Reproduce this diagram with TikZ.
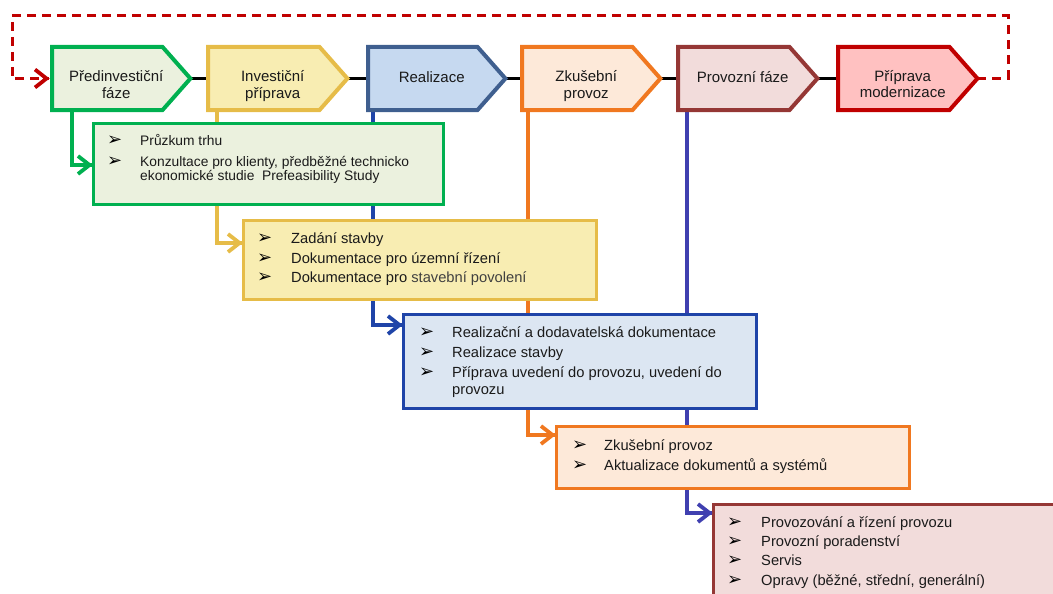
\documentclass[tikz,border=0pt]{standalone}
\usepackage{fontspec}
\setmainfont{Liberation Sans}
\newfontfamily\bulfont{DejaVu Sans}
\usetikzlibrary{calc}
\pgfdeclarelayer{bg}
\pgfsetlayers{bg,main}
\definecolor{txt}{HTML}{1A1A1A}
\definecolor{gB}{HTML}{00B050}\definecolor{gF}{HTML}{EBF1DE}
\definecolor{yB}{HTML}{E6BC48}\definecolor{yF}{HTML}{F8EDB2}
\definecolor{bB}{HTML}{3F5F8F}\definecolor{bF}{HTML}{C6D9F0}
\definecolor{dbB}{HTML}{1F44A8}\definecolor{dbF}{HTML}{DCE6F2}
\definecolor{oB}{HTML}{F07820}\definecolor{oF}{HTML}{FDE9D9}
\definecolor{rbB}{HTML}{953735}\definecolor{rbF}{HTML}{F2DCDB}
\definecolor{rB}{HTML}{C00000}\definecolor{rF}{HTML}{FFC1C1}
\definecolor{pu}{HTML}{4040B0}
\newcommand\phshape[3]{%
  \draw[line width=4pt, draw=#2, fill=#3, line join=miter]
    (#1.north west) -- ($(#1.north east)+(-28,0)$) -- (#1.east)
    -- ($(#1.south east)+(-28,0)$) -- (#1.south west) -- cycle;}
\newcommand\chevtip[2]{% coordinate name, colour
  \draw[line width=3.8pt, draw=#2, line join=miter, line cap=butt]
    ($(#1)+(-14,-9)$) -- ($(#1)+(-2.5,0)$) -- ($(#1)+(-14,9)$);}
\begin{document}
\begin{tikzpicture}[x=1pt,y=-1pt,
  phnode/.style={anchor=west, inner sep=0, minimum height=63pt},
  phtext/.style={anchor=base, inner sep=0, text=txt, font=\fontsize{15}{17}\selectfont},
  dbox/.style={anchor=north west, inner sep=0, line width=3pt},
  itm/.style={anchor=base west, inner sep=0, text=txt, font=\fontsize{14.7}{17}\selectfont},
  itmA/.style={anchor=base west, inner sep=0, text=txt, font=\fontsize{13.8}{15}\selectfont},
  bul/.style={anchor=base west, inner sep=0, text=black, font=\bulfont\fontsize{18}{18}\selectfont},
  link/.style={line width=3pt, black},
  conn/.style={line width=3.2pt},
  loopline/.style={line width=3pt, rB, dash pattern=on 9pt off 6pt}
]
\useasboundingbox (0,0) rectangle (1053,594);
\clip (0,0) rectangle (1053,594);

% phase nodes
\node[phnode, minimum width=138pt] (p1) at (52,78.5) {};
\node[phnode, minimum width=139pt] (p2) at (208,78.5) {};
\node[phnode, minimum width=137pt] (p3) at (368,78.5) {};
\node[phnode, minimum width=138pt] (p4) at (522,78.5) {};
\node[phnode, minimum width=139pt] (p5) at (678,78.5) {};
\node[phnode, minimum width=139pt] (p6) at (838,78.5) {};
\phshape{p1}{gB}{gF}
\phshape{p2}{yB}{yF}
\phshape{p3}{bB}{bF}
\phshape{p4}{oB}{oF}
\phshape{p5}{rbB}{rbF}
\phshape{p6}{rB}{rF}

\node[phtext] (p1a) at ($(p1.center)+(-5,3.2)$) {Předinvestiční};
\node[phtext] (p1b) at ($(p1.center)+(-5,20.2)$) {fáze};
\node[phtext] (p2a) at ($(p2.center)+(-5,3.2)$) {Investiční};
\node[phtext] (p2b) at ($(p2.center)+(-5,20)$) {příprava};
\node[phtext] (p3a) at ($(p3.center)+(-5,3.6)$) {Realizace};
\node[phtext] (p4a) at ($(p4.center)+(-5,2.8)$) {Zkušební};
\node[phtext] (p4b) at ($(p4.center)+(-5,19.8)$) {provoz};
\node[phtext] (p5a) at ($(p5.center)+(-5,3.5)$) {Provozní fáze};
\node[phtext] (p6a) at ($(p6.center)+(-5,2.6)$) {Příprava};
\node[phtext] (p6b) at ($(p6.center)+(-5,19.3)$) {modernizace};

% detail boxes
\node[dbox, draw=gB, fill=gF, minimum width=350pt, minimum height=81pt] (d1) at (92,122) {};
\node[dbox, draw=yB, fill=yF, minimum width=353pt, minimum height=79pt] (d2) at (242,219) {};
\node[dbox, draw=dbB, fill=dbF, minimum width=353pt, minimum height=94pt] (d3) at (402,313) {};
\node[dbox, draw=oB, fill=oF, minimum width=353pt, minimum height=62pt] (d4) at (555,425) {};
\node[dbox, draw=rbB, fill=rbF, minimum width=380pt, minimum height=110pt] (d5) at (712,503) {};

% box 1 items
\node[bul] (d1b1) at (107,146) {➢};
\node[itmA] (d1t1) at (140,146) {Průzkum trhu};
\node[bul] (d1b2) at (107,166.7) {➢};
\node[itmA] (d1t2) at (140,166.7) {Konzultace pro klienty, předběžné technicko};
\node[itmA] (d1t3) at (140,180) {ekonomické studie\ \ Prefeasibility Study};
% box 2 items
\node[bul] (d2b1) at (257,243.3) {➢};
\node[itm] (d2t1) at (291,243.3) {Zadání stavby};
\node[bul] (d2b2) at (257,263.3) {➢};
\node[itm] (d2t2) at (291,263.3) {Dokumentace pro územní řízení};
\node[bul] (d2b3) at (257,282.3) {➢};
\node[itm] (d2t3) at (291,282.3) {Dokumentace pro {\color{black!75}stavební povolení}};
% box 3 items
\node[bul] (d3b1) at (419,337.3) {➢};
\node[itm] (d3t1) at (452,337.3) {Realizační a dodavatelská dokumentace};
\node[bul] (d3b2) at (419,357.3) {➢};
\node[itm] (d3t2) at (452,357.3) {Realizace stavby};
\node[bul] (d3b3) at (419,377.7) {➢};
\node[itm] (d3t3) at (452,377.7) {Příprava uvedení do provozu, uvedení do};
\node[itm] (d3t4) at (452,394) {provozu};
% box 4 items
\node[bul] (d4b1) at (572,450.7) {➢};
\node[itm] (d4t1) at (604,450.7) {Zkušební provoz};
\node[bul] (d4b2) at (572,470) {➢};
\node[itm] (d4t2) at (604,470) {Aktualizace dokumentů a systémů};
% box 5 items
\node[bul] (d5b1) at (727,527.3) {➢};
\node[itm] (d5t1) at (761,527.3) {Provozování a řízení provozu};
\node[bul] (d5b2) at (727,546.7) {➢};
\node[itm] (d5t2) at (761,546.7) {Provozní poradenství};
\node[bul] (d5b3) at (727,565.7) {➢};
\node[itm] (d5t3) at (761,565.7) {Servis};
\node[bul] (d5b4) at (727,585) {➢};
\node[itm] (d5t4) at (761,585) {Opravy (běžné, střední, generální)};

\coordinate (lpR) at (1008,16);
\coordinate (lpL) at (12,16);
\coordinate (a0) at ($(p1.west)+(-3,0)$);
\coordinate (a1) at ($(d1.north west)+(0,43)$);
\coordinate (a2) at ($(d2.north west)+(0,24)$);
\coordinate (a3) at ($(d3.north west)+(0,12)$);
\coordinate (a4) at ($(d4.north west)+(0,10)$);
\coordinate (a5) at ($(d5.north west)+(0,10)$);

\begin{pgfonlayer}{bg}
\draw[link] (p1.east) -- (p2.west);
\draw[link] (p2.east) -- (p3.west);
\draw[link] (p3.east) -- (p4.west);
\draw[link] (p4.east) -- (p5.west);
\draw[link] (p5.east) -- (p6.west);
\draw[loopline] (p6.east) -| (lpR) -- (lpL) |- (a0);
\draw[conn, gB] ($(p1.south west)+(20,0)$) |- (a1);
\draw[conn, yB] ($(p2.south west)+(9,0)$) |- (a2);
\draw[conn, dbB] ($(p3.south west)+(5,0)$) |- (a3);
\draw[conn, oB] ($(p4.south west)+(6,0)$) |- (a4);
\draw[conn, pu] ($(p5.south west)+(9,0)$) |- (a5);
\end{pgfonlayer}
\chevtip{a0}{rB}
\chevtip{a1}{gB}
\chevtip{a2}{yB}
\chevtip{a3}{dbB}
\chevtip{a4}{oB}
\chevtip{a5}{pu}
\end{tikzpicture}
\end{document}
